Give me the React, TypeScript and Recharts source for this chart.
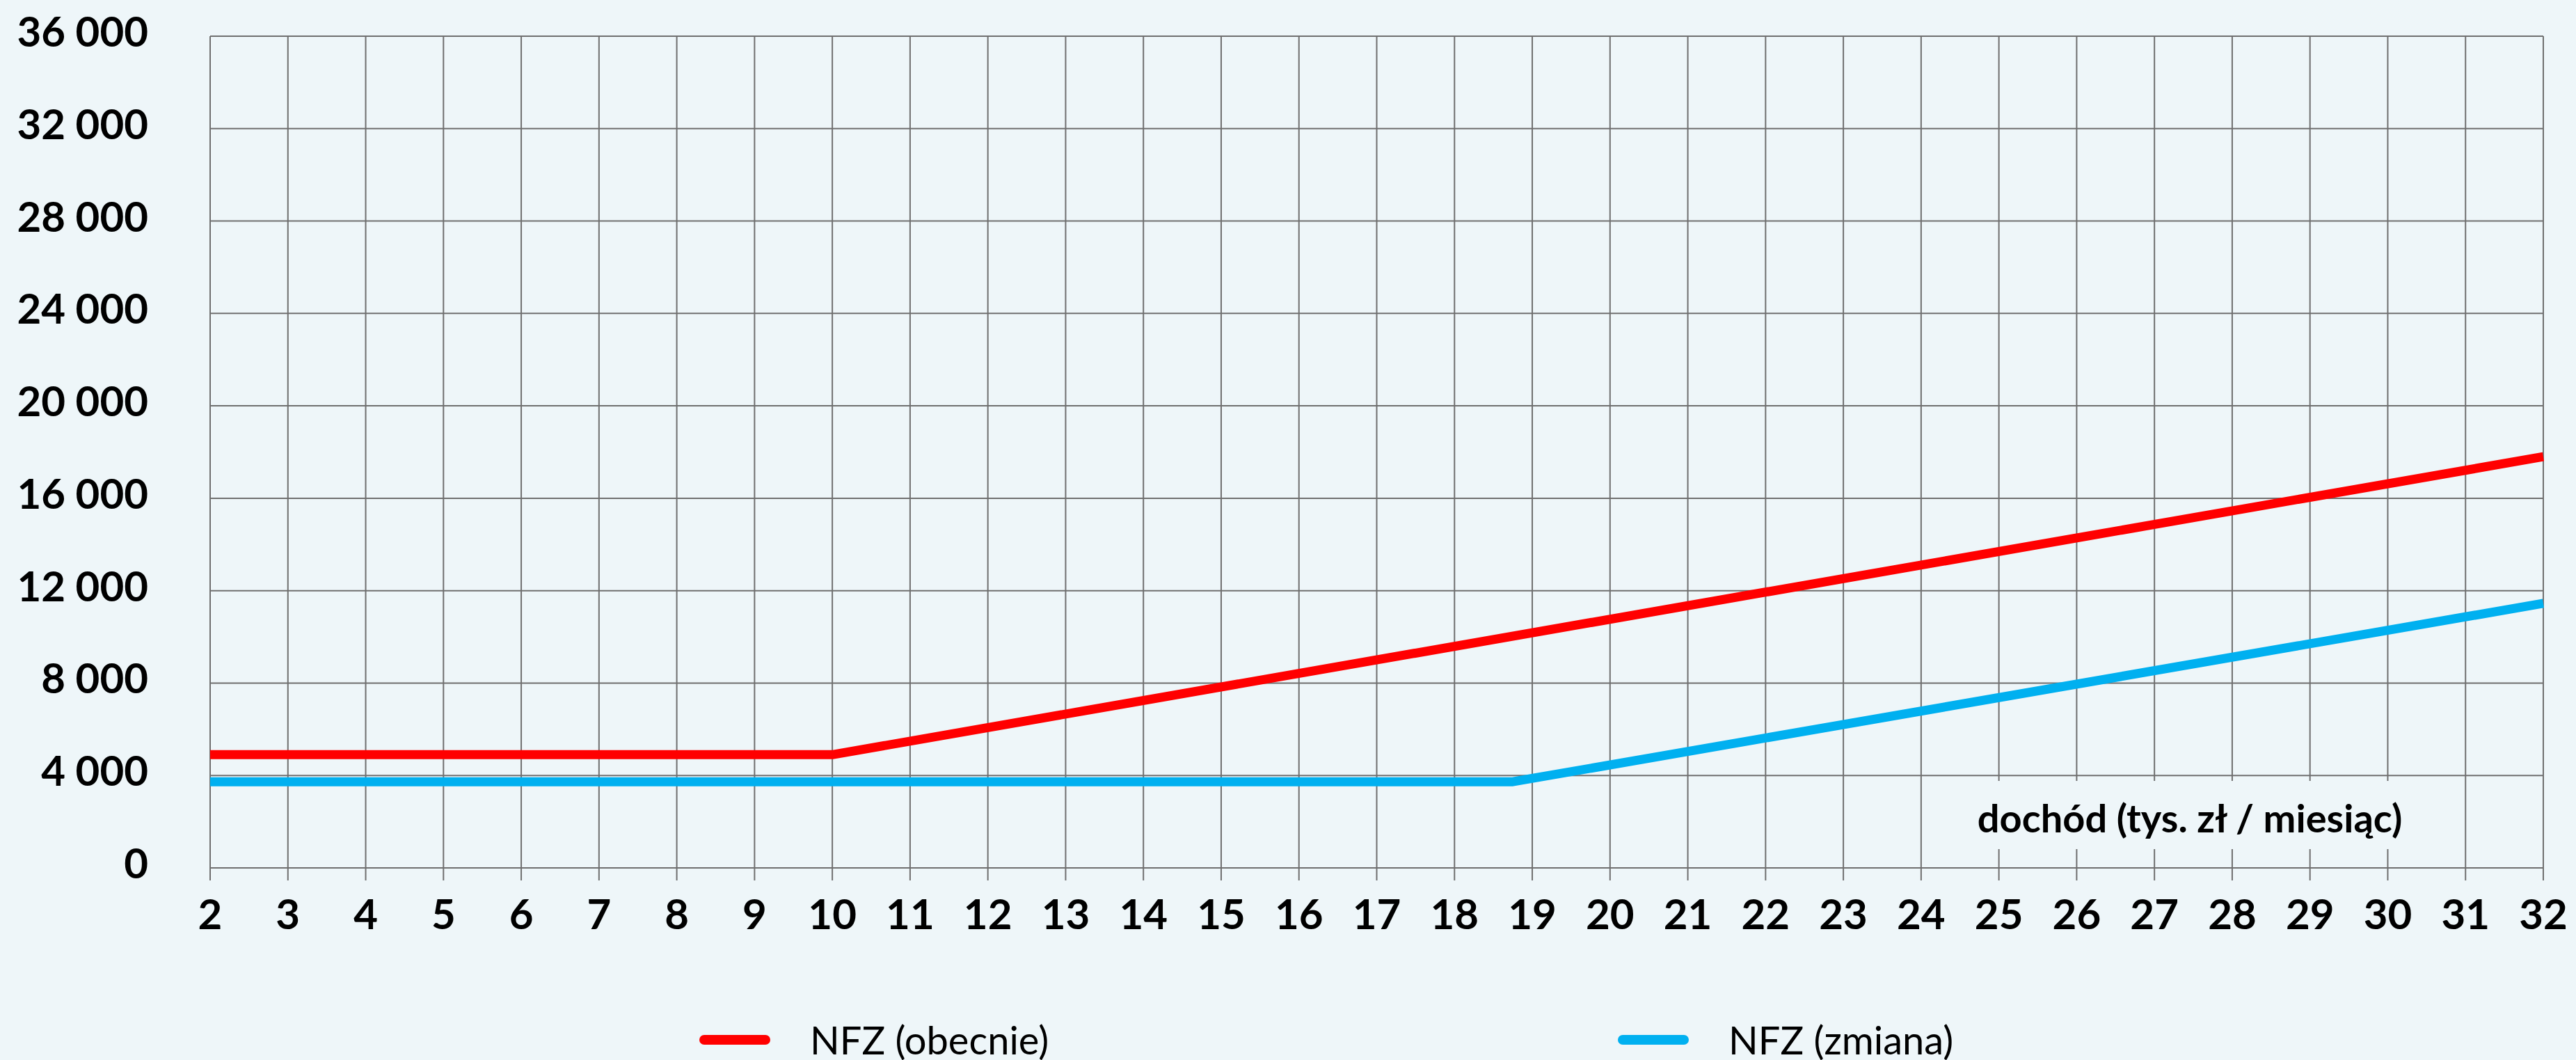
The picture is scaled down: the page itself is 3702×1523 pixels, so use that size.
import React from "react";
import {
  CartesianGrid,
  Line,
  LineChart,
  XAxis,
  YAxis,
} from "recharts";

const W = 3702;
const H = 1523;
const BG = "#eef6f9";
const GRID = "#6f6f6f";

// income (thousand zł / month)
const xTicks = [
  2, 3, 4, 5, 6, 7, 8, 9, 10, 11, 12, 13, 14, 15, 16, 17, 18, 19, 20, 21, 22,
  23, 24, 25, 26, 27, 28, 29, 30, 31, 32,
];
const yTicks = [0, 4000, 8000, 12000, 16000, 20000, 24000, 28000, 32000, 36000];

// breakpoints
const nfzNow = [
  { x: 2, y: 4900 },
  { x: 10, y: 4900 },
  { x: 32, y: 17800 },
];
const nfzChange = [
  { x: 2, y: 3730 },
  { x: 18.75, y: 3730 },
  { x: 32, y: 11450 },
];

const series = [
  { name: "NFZ (obecnie)", data: nfzNow, color: "#ff0000" },
  { name: "NFZ (zmiana)", data: nfzChange, color: "#00b0f0" },
];

const axisLabel = "dochód (tys. zł / miesiąc)";

const fmt = (v: number) =>
  v === 0 ? "0" : `${Math.floor(v / 1000)} ${String(v % 1000).padStart(3, "0")}`;

function YTick(props: any) {
  const { x, y, payload } = props;
  return (
    <text
      x={x - 81}
      y={y + 15}
      textAnchor="end"
      fontFamily="Lato"
      fontWeight={700}
      fontSize={60}
      fill="#000"
    >
      {fmt(payload.value)}
    </text>
  );
}

function XTick(props: any) {
  const { x, y, payload } = props;
  return (
    <text
      x={x}
      y={y + 68}
      textAnchor="middle"
      fontFamily="Lato"
      fontWeight={700}
      fontSize={60}
      fill="#000"
    >
      {payload.value}
    </text>
  );
}

function AxisTitle(props: any) {
  const { viewBox } = props;
  const cx = viewBox.x + viewBox.width - 508;
  const cy = viewBox.y - 69;
  return (
    <g>
      <rect x={cx - 340} y={cy - 56} width={680} height={98} fill={BG} />
      <text
        x={cx}
        y={cy + 18}
        textAnchor="middle"
        fontFamily="Lato"
        fontWeight={700}
        fontSize={56}
        fill="#000"
      >
        {axisLabel}
      </text>
    </g>
  );
}

export default function App() {
  return (
    <div
      style={{
        position: "fixed",
        left: 0,
        top: 0,
        width: W,
        height: H,
        background: BG,
        overflow: "hidden",
      }}
    >
      <LineChart
        width={W}
        height={H}
        margin={{ top: 52, right: 47, left: 0, bottom: 0 }}
      >
        <CartesianGrid stroke={GRID} strokeWidth={2} />
        <XAxis
          dataKey="x"
          type="number"
          domain={[2, 32]}
          ticks={xTicks}
          interval={0}
          height={276}
          tickSize={18}
          tickLine={{ stroke: GRID, strokeWidth: 2 }}
          axisLine={{ stroke: GRID, strokeWidth: 2 }}
          tick={<XTick />}
          allowDuplicatedCategory={false}
          label={<AxisTitle />}
        />
        <YAxis
          type="number"
          domain={[0, 36000]}
          ticks={yTicks}
          interval={0}
          width={302}
          tickLine={false}
          axisLine={false}
          tick={<YTick />}
        />
        {series.map((s) => (
          <Line
            key={s.name}
            data={s.data}
            dataKey="y"
            name={s.name}
            type="linear"
            stroke={s.color}
            strokeWidth={13}
            strokeLinejoin="round"
            dot={false}
            activeDot={false}
            isAnimationActive={false}
          />
        ))}
      </LineChart>
      {series.map((s, i) => (
        <div
          key={s.name}
          style={{
            position: "absolute",
            left: i === 0 ? 1005 : 2325,
            top: 1460,
            display: "flex",
            alignItems: "center",
            fontFamily: "Lato",
            fontSize: 56,
            color: "#000",
            whiteSpace: "nowrap",
          }}
        >
          <span
            style={{
              display: "inline-block",
              width: 102,
              height: 14,
              borderRadius: 7,
              background: s.color,
              marginRight: 57,
            }}
          />
          <span>{s.name}</span>
        </div>
      ))}
    </div>
  );
}
